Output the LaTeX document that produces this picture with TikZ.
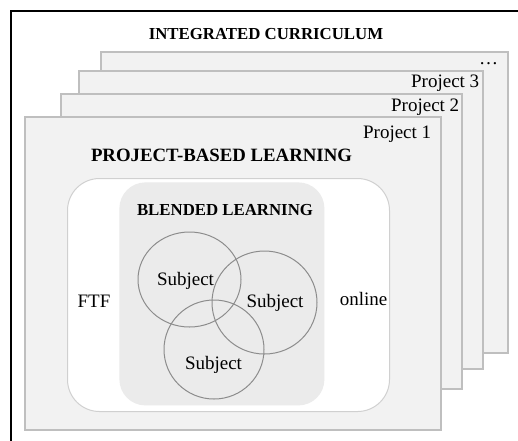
\documentclass[tikz,border=0pt]{standalone}
\usepackage{fontspec}
\setmainfont{Liberation Serif}
\usepackage{tikz}
\usetikzlibrary{positioning}
\usetikzlibrary{shapes.geometric}
\definecolor{cardfill}{HTML}{F2F2F2}
\definecolor{cardline}{HTML}{BFBFBF}
\definecolor{blendfill}{HTML}{EBEBEB}
\definecolor{modeline}{HTML}{D0D0D0}
\definecolor{subjline}{HTML}{8C8C8C}

\begin{document}
\begin{tikzpicture}[
    x=0.5pt, y=-0.5pt,
    outerframe/.style={
      draw=black,
      line width=1pt,
    },
    card/.style={
      draw=cardline,
      fill=cardfill,
      line width=0.8pt,
      anchor=north west,
      inner sep=0pt,
    },
    hybrid/.style={
      draw=modeline,
      fill=white,
      line width=0.5pt,
      rounded corners=16pt,
      anchor=north west,
      inner sep=0pt,
    },
    blended/.style={
      fill=blendfill,
      rounded corners=13pt,
      anchor=north west,
      inner sep=0pt,
    },
    subject/.style={
      ellipse,
      draw=subjline,
      line width=0.5pt,
      inner sep=0pt,
    },
    word/.style={
      inner sep=0pt,
      font=\fontsize{9.5}{11}\selectfont,
    },
    tag/.style={
      word,
      anchor=base east,
    },
    heading/.style={
      anchor=base,
      inner sep=0pt,
      font=\fontsize{8.4}{10}\selectfont\bfseries,
    },
    ]
    \useasboundingbox (0,0) rectangle (518,440);
    \clip (0,0) rectangle (518,440);
    \draw[outerframe] (11,11) rectangle (560,480);

    \node[heading] (curriculum) at (266,39.5) {INTEGRATED CURRICULUM};

    \node[card, minimum width=203.5pt, minimum height=150.5pt] (card4) at (100,51) {};
    \node[card, minimum width=202pt, minimum height=149pt] (card3) at (78,70) {};
    \node[card, minimum width=200.5pt, minimum height=147.5pt] (card2) at (60,93) {};
    \node[card, minimum width=208pt, minimum height=156.5pt] (card1) at (24,116) {};

    \node[tag] (more) at ([shift={(-10,13)}]card4.north east) {…};
    \node[tag] (proj3) at ([shift={(-4,17.5)}]card3.north east) {Project 3};
    \node[tag] (proj2) at ([shift={(-3,18.5)}]card2.north east) {Project 2};
    \node[tag] (proj1) at ([shift={(-10,22.5)}]card1.north east) {Project 1};

    \node[heading, font=\fontsize{9.4}{11}\selectfont\bfseries] (pbl) at (221.5,161.5) {PROJECT-BASED LEARNING};

    \node[hybrid, minimum width=161pt, minimum height=116.5pt] (modes) at (67,178) {};
    \node[blended, minimum width=102.5pt, minimum height=111.5pt] (blend) at (119,182) {};
    \node[heading] (bl) at (225,215) {BLENDED LEARNING};

    \node[subject, minimum width=51.5pt, minimum height=47.5pt] (subj1) at (189.5,279.5) {};
    \node[subject, minimum width=52.5pt, minimum height=51.5pt] (subj2) at (264.5,302.5) {};
    \node[subject, minimum width=50pt, minimum height=49.5pt] (subj3) at (214,349.5) {};
    \node[word] (subj1txt) at ([shift={(-4,1.1)}]subj1.center) {Subject};
    \node[word] (subj2txt) at ([shift={(10.5,0.1)}]subj2.center) {Subject};
    \node[word] (subj3txt) at ([shift={(-0.5,15.1)}]subj3.center) {Subject};

    \node[word] (ftf) at ([shift={(27,6)}]modes.west) {FTF};
    \node[word] (online) at ([shift={(-26.5,4)}]modes.east) {online};
  \end{tikzpicture}
\end{document}
